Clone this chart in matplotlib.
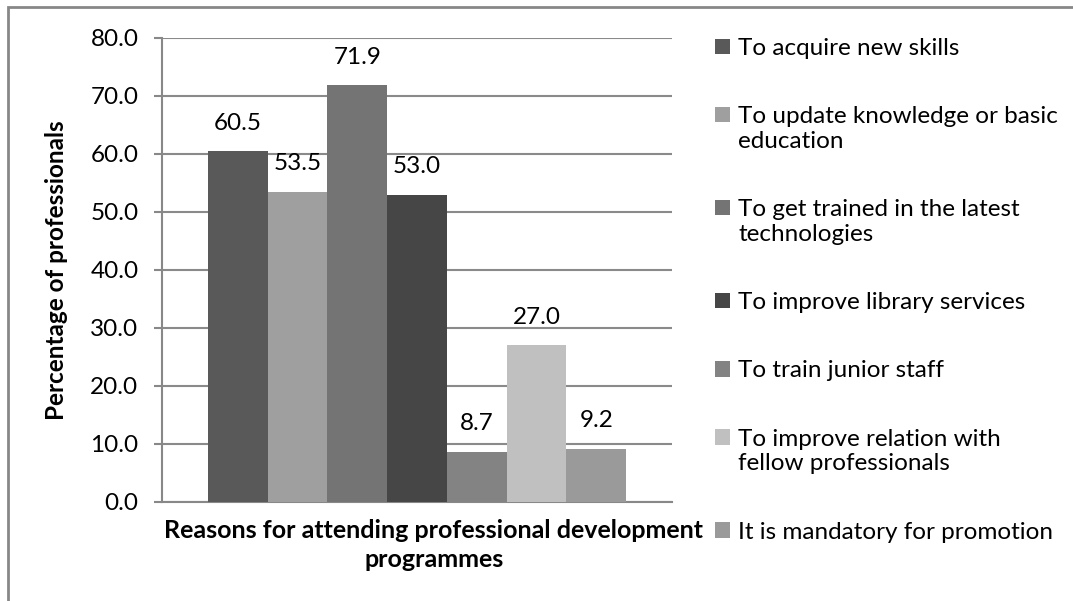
import matplotlib.pyplot as plt
import numpy as np
from matplotlib.patches import Rectangle
from matplotlib.legend_handler import HandlerPatch, update_from_first_child

# data
reasons = [
    "To acquire new skills",
    "To update knowledge or basic\neducation",
    "To get trained in the latest\ntechnologies",
    "To improve library services",
    "To train junior staff",
    "To improve relation with\nfellow professionals",
    "It is mandatory for promotion",
]
percentages = [60.5, 53.5, 71.9, 53.0, 8.7, 27.0, 9.2]
bar_colors = ["#595959", "#9f9f9f", "#747474", "#464646", "#838383", "#c0c0c0", "#9a9a9a"]
y_ticks = [0, 10, 20, 30, 40, 50, 60, 70, 80]

plt.rcParams["font.family"] = ["Lato", "DejaVu Sans"]
fs = 17.5


class FirstLineHandler(HandlerPatch):
    # put the legend square next to the first line of a two-line label
    def __init__(self, shift, **kw):
        super().__init__(**kw)
        self.shift = shift

    def create_artists(self, legend, orig_handle, xdescent, ydescent, width, height,
                       fontsize, trans):
        return super().create_artists(legend, orig_handle, xdescent, ydescent - self.shift,
                                      width, height, fontsize, trans)


W, H = 1073, 601
fig = plt.figure(figsize=(W / 100, H / 100), dpi=100)
ax = fig.add_axes([162 / W, 1 - 502 / H, (672 - 162) / W, (502 - 38) / H])

# outer chart border
fig.patches.append(Rectangle((8 / W, -0.1), 1.2, 1 - 7 / H + 0.1, transform=fig.transFigure,
                             fill=False, edgecolor="#878787", linewidth=2))

bw = 0.82 / len(percentages)
handler_map = {}
for i, (lab, val, col) in enumerate(zip(reasons, percentages, bar_colors)):
    pos = (i - (len(percentages) - 1) / 2) * bw
    bars = ax.bar(pos, val, width=bw, color=col, label=lab, zorder=3)
    if "\n" in lab:
        handler_map[bars] = FirstLineHandler(0.6 * fs, update_func=update_from_first_child)
    ax.annotate(f"{val:.1f}", (pos, val), xytext=(0, 20), textcoords="offset points",
                ha="center", va="center", fontsize=fs)

ax.set_xlim(-0.5, 0.5)
ax.set_ylim(0, 80)
ax.set_yticks(y_ticks)
ax.set_yticklabels([f"{t:.1f}" for t in y_ticks])
ax.set_xticks([])
ax.tick_params(axis="y", length=6, width=1.5, color="#888888", pad=11, labelsize=fs)
ax.grid(True, axis="y", color="#8a8a8a", linewidth=1.5, zorder=0)
for s in ["top", "right"]:
    ax.spines[s].set_visible(False)
for s in ["left", "bottom"]:
    ax.spines[s].set_color("#888888")
    ax.spines[s].set_linewidth(1.5)

ax.set_ylabel("Percentage of professionals", fontsize=fs, fontweight="bold", labelpad=16)
ax.set_xlabel("Reasons for attending professional development\nprogrammes", fontsize=18,
              fontweight="bold", labelpad=12, linespacing=1.35)
ax.xaxis.label.set_x((434 - 162) / (672 - 162))

ax.legend(loc="upper left", bbox_to_anchor=(715 / W, 1 - 38 / H), bbox_transform=fig.transFigure,
          frameon=False, fontsize=fs, handlelength=0.6, handleheight=0.6, handletextpad=0.35,
          labelspacing=1.95, borderpad=0, borderaxespad=0, handler_map=handler_map)

fig.savefig("out.png", dpi=100)
